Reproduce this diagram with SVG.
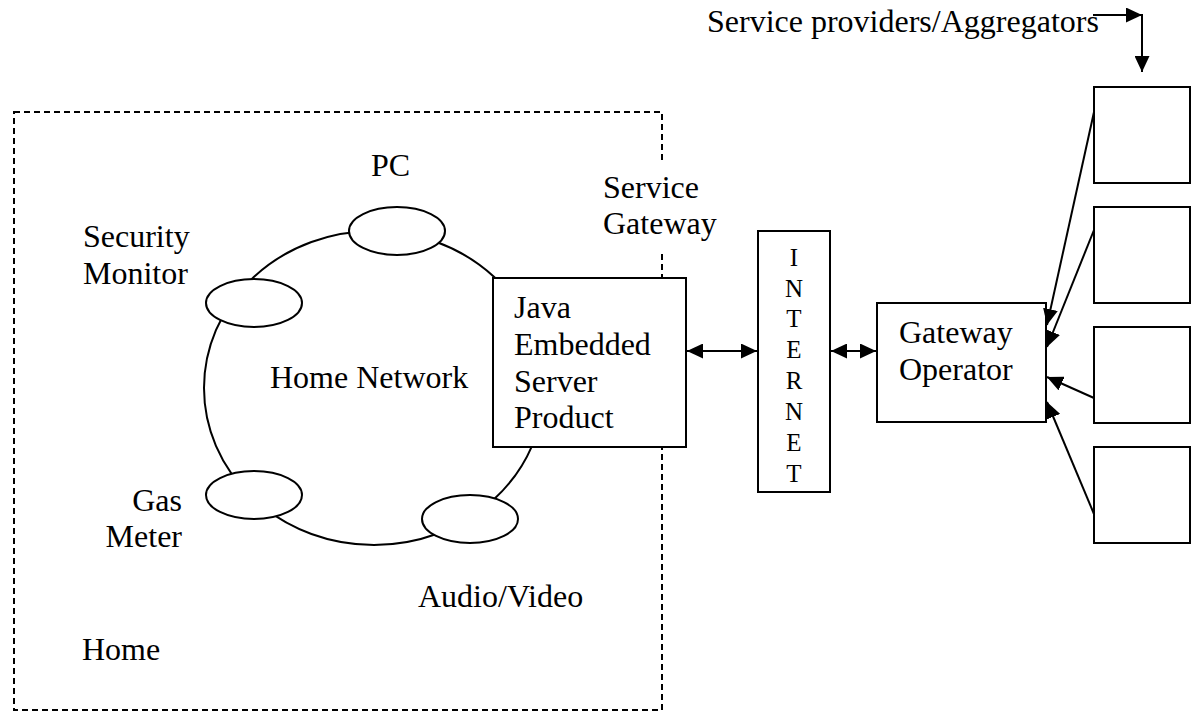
<svg xmlns="http://www.w3.org/2000/svg" width="1202" height="715" viewBox="0 0 1202 715">
<style>
text{font-family:"Liberation Serif","Times New Roman",serif;font-size:32px;fill:#000}
.inet{font-size:25px}
.box{fill:#fff;stroke:#000;stroke-width:2}
.node{fill:#fff;stroke:#000;stroke-width:2}
.ring{fill:none;stroke:#000;stroke-width:2}
.dash{fill:none;stroke:#000;stroke-width:2;stroke-dasharray:6 4}
.conn{fill:none;stroke:#000;stroke-width:2}
</style>
<defs>
<marker id="ah" viewBox="0 0 10 10" preserveAspectRatio="none" markerWidth="16" markerHeight="15" markerUnits="userSpaceOnUse" refX="10" refY="5" orient="auto-start-reverse">
<path d="M0,0 L10,5 L0,10 z" fill="#000"/>
</marker>
</defs>
<rect width="1202" height="715" fill="#fff"/>

<g id="home">
<rect class="dash" x="14" y="112" width="648" height="598"/>
<text x="82" y="660">Home</text>
</g>

<g id="service-gateway-label">
<rect x="600" y="163" width="120" height="89" fill="#fff"/>
<text x="603" y="198">Service</text>
<text x="603" y="234">Gateway</text>
</g>

<g id="home-network">
<ellipse class="ring" cx="374" cy="388" rx="170" ry="157"/>
<text x="270" y="388">Home Network</text>
</g>

<g id="pc">
<ellipse class="node" cx="397" cy="231" rx="48" ry="24"/>
<text x="371" y="176">PC</text>
</g>

<g id="security-monitor">
<ellipse class="node" cx="254" cy="303" rx="48" ry="24"/>
<text x="83" y="247">Security</text>
<text x="83" y="284">Monitor</text>
</g>

<g id="gas-meter">
<ellipse class="node" cx="254" cy="495" rx="48" ry="24"/>
<text x="182" y="511" text-anchor="end">Gas</text>
<text x="182" y="547" text-anchor="end">Meter</text>
</g>

<g id="audio-video">
<ellipse class="node" cx="470" cy="519" rx="48" ry="24"/>
<text x="418" y="607">Audio/Video</text>
</g>

<g id="java-server">
<rect class="box" x="493" y="278" width="193" height="169"/>
<text x="514" y="318">Java</text>
<text x="514" y="355">Embedded</text>
<text x="514" y="392">Server</text>
<text x="514" y="428">Product</text>
</g>

<g id="internet">
<rect class="box" x="758" y="231" width="72" height="261"/>
<text class="inet" x="794" y="266" text-anchor="middle">I</text>
<text class="inet" x="794" y="297" text-anchor="middle">N</text>
<text class="inet" x="794" y="327" text-anchor="middle">T</text>
<text class="inet" x="794" y="358" text-anchor="middle">E</text>
<text class="inet" x="794" y="389" text-anchor="middle">R</text>
<text class="inet" x="794" y="420" text-anchor="middle">N</text>
<text class="inet" x="794" y="451" text-anchor="middle">E</text>
<text class="inet" x="794" y="482" text-anchor="middle">T</text>
</g>

<g id="gateway-operator">
<rect class="box" x="877" y="303" width="169" height="119"/>
<text x="899" y="343">Gateway</text>
<text x="899" y="380">Operator</text>
</g>

<g id="providers-label">
<text x="707" y="32">Service providers/Aggregators</text>
</g>

<g id="provider-1"><rect class="box" x="1094" y="87" width="96" height="96"/></g>
<g id="provider-2"><rect class="box" x="1094" y="207" width="96" height="96"/></g>
<g id="provider-3"><rect class="box" x="1094" y="327" width="96" height="96"/></g>
<g id="provider-4"><rect class="box" x="1094" y="447" width="96" height="96"/></g>

<g id="connectors">
<line class="conn" x1="687" y1="351" x2="757" y2="351" marker-start="url(#ah)" marker-end="url(#ah)"/>
<line class="conn" x1="831" y1="351" x2="876" y2="351" marker-start="url(#ah)" marker-end="url(#ah)"/>
<line class="conn" x1="1094" y1="112" x2="1047" y2="325" marker-end="url(#ah)"/>
<line class="conn" x1="1094" y1="230" x2="1047" y2="347" marker-end="url(#ah)"/>
<line class="conn" x1="1094" y1="398" x2="1047" y2="377" marker-end="url(#ah)"/>
<line class="conn" x1="1094" y1="514" x2="1047" y2="402" marker-end="url(#ah)"/>
<line class="conn" x1="1093" y1="15" x2="1142" y2="15" marker-end="url(#ah)"/>
<line class="conn" x1="1142" y1="14" x2="1142" y2="72" marker-end="url(#ah)"/>
</g>
</svg>
